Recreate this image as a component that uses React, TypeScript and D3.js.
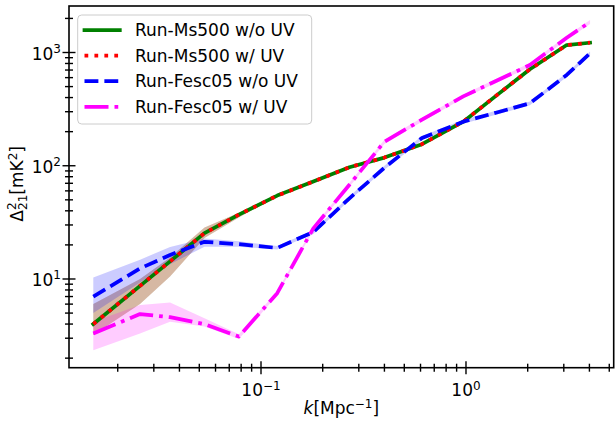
import React from "react";
import * as d3 from "d3";

// k bins (Mpc^-1)
const kBins = [0.0152, 0.0257, 0.036, 0.053, 0.078, 0.12, 0.18, 0.27, 0.4, 0.61, 0.97, 1.4, 2.05, 3.1, 4.03];

// Delta^2_21 [mK^2]
const ms500NoUV = [4.0, 8.7, 14.3, 25.4, 37, 54.5, 72.5, 97, 118, 155, 245, 414, 711, 1164, 1221];
const ms500UV = [4.0, 8.7, 14.3, 25.4, 37, 54.5, 72.5, 97, 118, 155, 245, 414, 711, 1164, 1221];
const fesc05NoUV = [7.0, 12.4, 16.3, 21.3, 20.3, 18.8, 26, 51.6, 96, 176, 245, 294, 356, 633, 984];
const fesc05UV = [3.3, 4.9, 4.6, 4.0, 3.1, 7.5, 28, 68, 163, 255, 410, 560, 776, 1350, 1860];

// shaded scatter ranges
const ms500Low = [3.2, 6.0, 10.5, 23.0, 35, 53.4, 71, 95, 115.6, 152, 240, 406, 697, 1141, 1197];
const ms500High = [6.0, 10.0, 15.5, 28.5, 38.5, 55.6, 74, 99, 120.4, 158, 250, 422, 725, 1187, 1245];
const fescNoUVLow = [5.0, 9.3, 13.5, 19.3, 19.3, 18.2, 25, 49.5, 92, 169, 235, 282, 342, 608, 945];
const fescNoUVHigh = [10.3, 14.8, 19.2, 22.8, 21.5, 19.6, 27, 53.7, 100, 183, 255, 306, 370, 658, 1023];
const fescUVLow = [2.35, 3.3, 4.2, 3.8, 2.95, 7.2, 26.9, 65.3, 156, 245, 394, 538, 745, 1296, 1786];
const fescUVHigh = [4.2, 5.9, 6.2, 4.5, 3.25, 7.8, 29.1, 70.7, 170, 265, 426, 582, 807, 1404, 1934];

const seriesNames = ["Run-Ms500 w/o UV", "Run-Ms500 w/ UV", "Run-Fesc05 w/o UV", "Run-Fesc05 w/ UV"];
const seriesColors = ["#008000", "#ff0000", "#0000ff", "#ff00ff"];

const xMajor = [0.1, 1];
const xMajorExp = ["−1", "0"];
const yMajor = [10, 100, 1000];
const yMajorExp = ["1", "2", "3"];

const W = 615;
const H = 423;
const margin = { top: 6, right: 1.3, bottom: 55.3, left: 69 };
const LW = 3.75;
const FONT = "DejaVu Sans, sans-serif";

const dashes = ["", `${LW} ${1.65 * LW}`, `${3.7 * LW} ${1.6 * LW}`, `${6.4 * LW} ${1.6 * LW} ${LW} ${1.6 * LW}`];

export default function App() {
  const x = d3.scaleLog().domain([0.01157, 5.255]).range([margin.left, W - margin.right]);
  const y = d3.scaleLog().domain([1.647, 2574]).range([H - margin.bottom, margin.top]);

  const values = [ms500NoUV, ms500UV, fesc05NoUV, fesc05UV];
  const bands = [
    { lo: ms500Low, hi: ms500High, color: "#008000" },
    { lo: ms500Low, hi: ms500High, color: "#ff0000" },
    { lo: fescNoUVLow, hi: fescNoUVHigh, color: "#0000ff" },
    { lo: fescUVLow, hi: fescUVHigh, color: "#ff00ff" },
  ];

  const line = d3
    .line<number>()
    .x((_, i) => x(kBins[i]))
    .y((d) => y(d));

  const area = (lo: number[], hi: number[]) =>
    d3
      .area<number>()
      .x((_, i) => x(kBins[i]))
      .y0((_, i) => y(lo[i]))
      .y1((_, i) => y(hi[i]))(kBins);

  const xMinor = x.ticks().filter((t) => !xMajor.some((m) => Math.abs(m - t) < 1e-9));
  const yMinor = y.ticks().filter((t) => !yMajor.some((m) => Math.abs(m - t) < 1e-9));

  const x0 = margin.left;
  const x1 = W - margin.right;
  const y0 = H - margin.bottom;
  const y1 = margin.top;

  return (
    <svg width={W} height={H} style={{ position: "absolute", left: 0, top: 0, fontFamily: FONT }}>
      <defs>
        <clipPath id="plot">
          <rect x={x0} y={y1} width={x1 - x0} height={y0 - y1} />
        </clipPath>
      </defs>
      <rect x={0} y={0} width={W} height={H} fill="#fff" />

      <g clipPath="url(#plot)">
        {bands.map((b, i) => (
          <path key={"b" + i} d={area(b.lo, b.hi) || ""} fill={b.color} fillOpacity={0.2} stroke="none" />
        ))}
        {values.map((v, i) => (
          <path
            key={"l" + i}
            d={line(v) || ""}
            fill="none"
            stroke={seriesColors[i]}
            strokeWidth={LW}
            strokeDasharray={dashes[i] || undefined}
            strokeLinecap={i === 0 ? "square" : "butt"}
            strokeLinejoin="round"
          />
        ))}
      </g>

      {/* frame */}
      <rect x={x0} y={y1} width={x1 - x0} height={y0 - y1} fill="none" stroke="#000" strokeWidth={1.6} />

      {/* x ticks */}
      {xMinor.map((t) => (
        <line key={"xm" + t} x1={x(t)} x2={x(t)} y1={y0 - 4} y2={y0 + 4} stroke="#000" strokeWidth={1.4} />
      ))}
      {xMajor.map((t, i) => (
        <g key={"xM" + t}>
          <line x1={x(t)} x2={x(t)} y1={y0 - 6.5} y2={y0 + 6.5} stroke="#000" strokeWidth={1.4} />
          <text x={x(t)} y={396} textAnchor="middle" fontSize={17}>
            10<tspan fontSize={12} dy={-6.5}>{xMajorExp[i]}</tspan>
          </text>
        </g>
      ))}

      {/* y ticks */}
      {yMinor.map((t) => (
        <line key={"ym" + t} x1={x0 - 4} x2={x0 + 4} y1={y(t)} y2={y(t)} stroke="#000" strokeWidth={1.4} />
      ))}
      {yMajor.map((t, i) => (
        <g key={"yM" + t}>
          <line x1={x0 - 6.5} x2={x0 + 6.5} y1={y(t)} y2={y(t)} stroke="#000" strokeWidth={1.4} />
          <text x={61} y={y(t) + 7} textAnchor="end" fontSize={17}>
            10<tspan fontSize={12} dy={-6.5}>{yMajorExp[i]}</tspan>
          </text>
        </g>
      ))}

      {/* axis labels */}
      <text x={(x0 + x1) / 2} y={414} textAnchor="middle" fontSize={17}>
        <tspan fontStyle="italic">k</tspan>[Mpc<tspan fontSize={12} dy={-6.5}>−1</tspan>
        <tspan dy={6.5}>]</tspan>
      </text>
      <g transform={`translate(23, ${(y0 + y1) / 2 - 3}) rotate(-90)`}>
        <text x={0} y={0} textAnchor="middle" fontSize={17}>
          Δ<tspan fontSize={12} dy={-7}>2</tspan>
          <tspan fontSize={12} dx={-7.6} dy={11}>21</tspan>
          <tspan dy={-4}>[mK</tspan>
          <tspan fontSize={12} dy={-6.5}>2</tspan>
          <tspan dy={6.5}>]</tspan>
        </text>
      </g>

      {/* legend */}
      <g>
        <rect x={77.7} y={15} width={234} height={109} rx={4} fill="#fff" fillOpacity={0.8} stroke="#cccccc" strokeWidth={1} />
        {seriesNames.map((name, i) => {
          const base = 36 + i * 25.6;
          return (
            <g key={name}>
              <line
                x1={84.5}
                x2={119.8}
                y1={base - 6}
                y2={base - 6}
                stroke={seriesColors[i]}
                strokeWidth={LW}
                strokeDasharray={dashes[i] || undefined}
                strokeLinecap={i === 0 ? "square" : "butt"}
              />
              <text x={135} y={base} fontSize={17}>
                {name}
              </text>
            </g>
          );
        })}
      </g>
    </svg>
  );
}
